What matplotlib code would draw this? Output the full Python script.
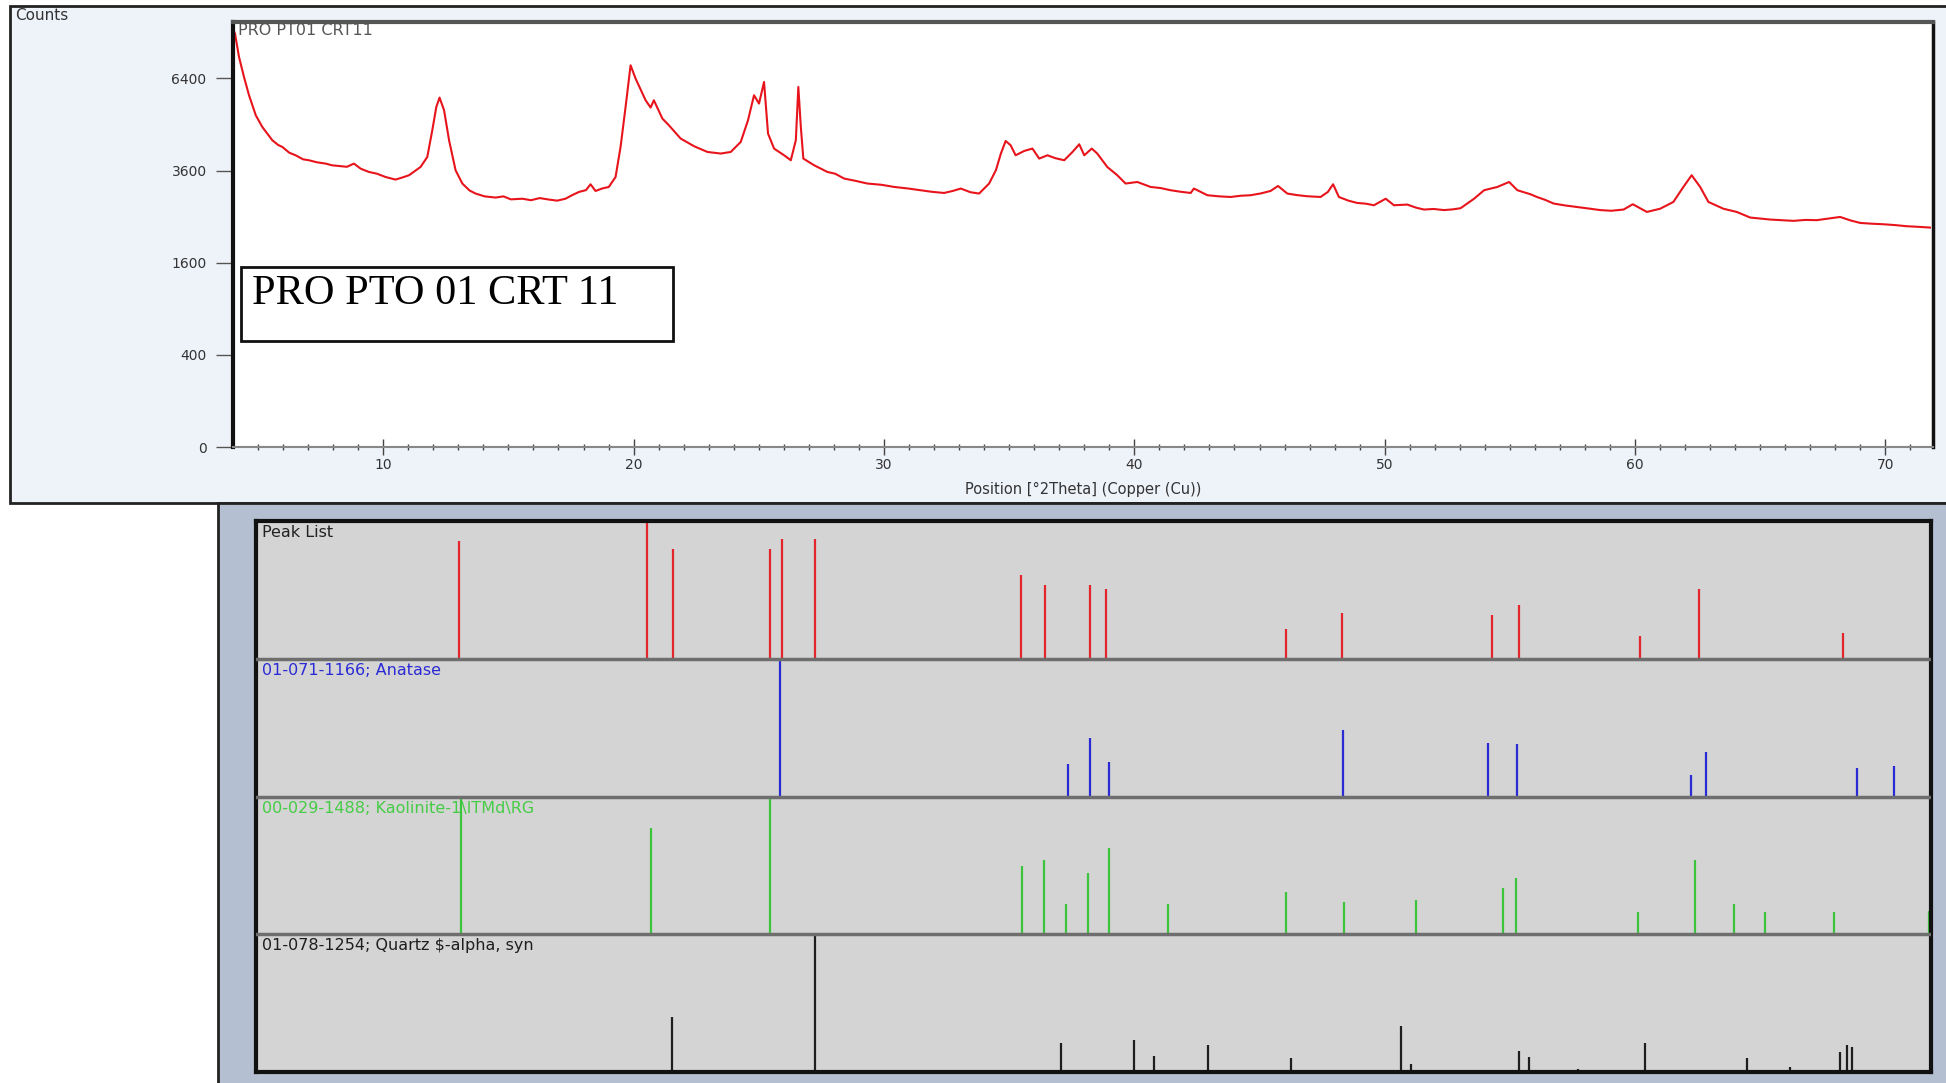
import numpy as np
from matplotlib import pyplot as plt
from matplotlib.patches import Rectangle

two_theta = [4.02, 4.08, 4.24, 4.44, 4.64, 4.91, 5.17, 5.40, 5.57, 5.80, 5.97, 6.25, 6.50, 6.80,
             7.03, 7.35, 7.70, 7.95, 8.23, 8.55, 8.83, 9.10, 9.43, 9.75, 10.09, 10.30, 10.49,
             10.75, 11.03, 11.49, 11.76, 11.96, 12.12, 12.25, 12.43, 12.63, 12.89,
             13.16, 13.45, 13.69, 14.05, 14.49, 14.80, 15.10, 15.56, 15.90, 16.25, 16.62, 16.95,
             17.28, 17.55, 17.82, 18.10, 18.28, 18.48, 18.75, 19.01, 19.28, 19.48,
             19.68, 19.88, 20.08, 20.48, 20.68, 20.81, 21.15, 21.41, 21.88, 22.42, 22.95, 23.48,
             23.88, 24.28, 24.57, 24.81, 25.01, 25.21, 25.37, 25.61, 26.01, 26.28, 26.48, 26.58,
             26.68, 26.78, 27.21, 27.74, 28.05, 28.41, 28.85, 29.34, 29.90, 30.41, 30.95, 31.47,
             31.90, 32.40, 32.75, 33.07, 33.45, 33.80, 34.20,
             34.47, 34.67, 34.86, 35.06, 35.26, 35.60, 35.93, 36.20, 36.53, 36.85, 37.20, 37.53, 37.80,
             38.00, 38.30, 38.52, 38.92, 39.32, 39.65, 40.12, 40.65, 41.05, 41.45, 41.85, 42.25,
             42.38, 42.92, 43.40, 43.85, 44.25, 44.64, 45.05, 45.44, 45.74, 46.11, 46.50, 46.91,
             47.44, 47.73, 47.94, 48.17, 48.55, 48.90, 49.25, 49.57, 50.04, 50.37, 50.90, 51.25,
             51.57, 51.95, 52.37, 52.70, 53.03, 53.57, 53.97, 54.50, 54.97, 55.30, 55.82,
             56.08, 56.40, 56.75, 57.20, 57.68, 58.15, 58.61, 59.05, 59.54, 59.91, 60.47, 61.00,
             61.53, 61.93, 62.26, 62.60, 62.93, 63.53, 64.06, 64.60, 65.00, 65.40, 65.85, 66.33,
             66.80, 67.26, 67.75, 68.19, 68.60, 68.99, 69.45, 69.92, 70.40, 70.85, 71.30, 71.78]
counts = [8200, 8050, 7170, 6450, 5830, 5185, 4827, 4600, 4434, 4300, 4243, 4080, 4010, 3900,
          3875, 3820, 3785, 3740, 3722, 3700, 3785, 3650, 3565, 3520, 3436, 3400, 3370,
          3420, 3480, 3695, 3964, 4728, 5448, 5753, 5344, 4434, 3609,
          3271, 3100, 3027, 2960, 2932, 2960, 2890, 2905, 2870, 2920, 2885, 2860,
          2905, 2990, 3066, 3110, 3253, 3089, 3150, 3187, 3436, 4243,
          5448, 6866, 6396, 5666, 5430, 5666, 5083, 4878, 4483, 4262, 4102, 4058,
          4102, 4385, 5031, 5830, 5558, 6279, 4630, 4197, 4011, 3875, 4434, 6109,
          4826, 3920, 3741, 3565, 3520, 3396, 3340, 3271, 3240, 3187, 3150, 3107,
          3070, 3041, 3090, 3148, 3060, 3027, 3271,
          3609, 4058, 4414, 4290, 4010, 4130, 4197, 3920, 4010, 3930, 3875, 4102, 4319,
          4010, 4197, 4058, 3695, 3480, 3271, 3310, 3187, 3160, 3107, 3070, 3041,
          3148, 2987, 2960, 2946, 2975, 2987, 3030, 3089, 3211, 3027, 2990, 2963,
          2946, 3066, 3253, 2946, 2860, 2807, 2790, 2754, 2905, 2754, 2770, 2700,
          2657, 2670, 2645, 2660, 2687, 2905, 3107, 3187, 3310, 3107, 3011,
          2946, 2880, 2793, 2750, 2715, 2680, 2645, 2630, 2657, 2777, 2604, 2675,
          2830, 3187, 3480, 3187, 2830, 2675, 2604, 2481, 2460, 2438, 2425, 2410,
          2430, 2425, 2460, 2494, 2420, 2366, 2350, 2338, 2320, 2297, 2285, 2269]

y_ticks = [0, 400, 1600, 3600, 6400]
x_ticks = [10, 20, 30, 40, 50, 60, 70]

# reference stick patterns (relative heights within each strip)
peak_pos = [12.21, 19.87, 20.92, 24.85, 25.31, 26.67, 35.03, 35.99, 37.80, 38.45, 45.76,
            48.02, 54.12, 55.18, 60.11, 62.48, 68.32]
peak_h = [0.855, 1.0, 0.80, 0.80, 0.87, 0.87, 0.605, 0.533, 0.538, 0.504, 0.213,
          0.334, 0.315, 0.387, 0.165, 0.504, 0.184]

anatase_pos = [25.26, 36.92, 37.82, 38.57, 48.08, 53.95, 55.11, 62.16, 62.79, 68.88, 70.39]
anatase_h = [1.0, 0.238, 0.422, 0.252, 0.485, 0.39, 0.381, 0.158, 0.325, 0.209, 0.218]

kaolinite_pos = [12.30, 20.02, 24.85, 35.05, 35.95, 36.84, 37.74, 38.57, 40.98, 45.75, 48.10,
                 51.03, 54.55, 55.09, 60.02, 62.35, 63.92, 65.17, 67.96, 71.80]
kaolinite_h = [1.0, 0.77, 1.0, 0.499, 0.542, 0.217, 0.446, 0.627, 0.217, 0.306, 0.234,
               0.248, 0.337, 0.41, 0.164, 0.542, 0.217, 0.164, 0.164, 0.17]

quartz_pos = [20.86, 26.67, 36.65, 39.60, 40.41, 42.61, 45.97, 50.41, 50.84, 55.20, 55.60,
              57.58, 60.31, 64.43, 66.19, 68.20, 68.49, 68.70]
quartz_h = [0.40, 1.0, 0.213, 0.23, 0.116, 0.199, 0.102, 0.334, 0.061, 0.15, 0.109,
            0.019, 0.208, 0.104, 0.039, 0.145, 0.196, 0.182]

strips = [
    ("Peak List", peak_pos, peak_h, "#e3262c", "#222222"),
    ("01-071-1166; Anatase", anatase_pos, anatase_h, "#2b2bd6", "#2b2bd6"),
    ("00-029-1488; Kaolinite-1\\ITMd\\RG", kaolinite_pos, kaolinite_h, "#3cc43c", "#46cc46"),
    ("01-078-1254; Quartz $-alpha, syn", quartz_pos, quartz_h, "#1e1e1e", "#1e1e1e"),
]

W, H = 1946, 1083
plt.rcParams['font.family'] = ['DejaVu Sans']
fig = plt.figure(figsize=(W / 100, H / 100), dpi=100)
fig.patch.set_facecolor("white")


def frac(x0, y0, x1, y1):
    # pixel box (top-left origin) -> figure fraction [l, b, w, h]
    return [x0 / W, 1 - y1 / H, (x1 - x0) / W, (y1 - y0) / H]


def box(x0, y0, x1, y1, fc, ec, lw, z=-1):
    l, b, w, h = frac(x0, y0, x1, y1)
    fig.add_artist(Rectangle((l, b), w, h, transform=fig.transFigure,
                             facecolor=fc, edgecolor=ec, linewidth=lw, zorder=z))


# panel backgrounds
box(10, 6, 1950, 503, "#eef2f9", "#222222", 2.0)
box(218, 503, 1950, 1090, "#b4bfd1", "#222222", 2.0)

# ---- top: diffractogram ----
ax = fig.add_axes(frac(233, 22, 1933, 447))
ax.set_facecolor("white")
ax.plot(two_theta, counts, color="#e8141c", lw=1.5)
ax.set_yscale("function", functions=(lambda v: np.sqrt(np.clip(v, 0, None)), np.square))
ax.set_ylim(0, 8512)
ax.set_xlim(4.0, 71.9)
ax.set_yticks(y_ticks)
ax.set_yticklabels([str(t) for t in y_ticks])
ax.set_xticks(x_ticks)
ax.set_xticks(range(5, 72), minor=True)
ax.tick_params(axis="y", direction="out", length=12, width=1, color="#555555",
               labelsize=10, labelcolor="#333333", pad=7)
ax.tick_params(axis="x", which="major", direction="inout", length=12, width=1,
               color="#444444", labelsize=10, labelcolor="#333333", pad=2)
ax.tick_params(axis="x", which="minor", direction="inout", length=5, width=1, color="#444444")
ax.spines["left"].set_linewidth(3)
ax.spines["left"].set_color("#111111")
ax.spines["right"].set_linewidth(2.5)
ax.spines["right"].set_color("#111111")
ax.spines["top"].set_linewidth(3)
ax.spines["top"].set_color("#555555")
ax.spines["bottom"].set_linewidth(1.5)
ax.spines["bottom"].set_color("#888888")
ax.set_xlabel("Position [°2Theta] (Copper (Cu))", fontsize=10.5, color="#333333", labelpad=7)
ax.text(0.003, 0.998, "PRO PT01 CRT11", transform=ax.transAxes, fontsize=11.5,
        color="#555555", va="top", ha="left")
fig.text(15 / W, 1 - 8 / H, "Counts", fontsize=11, color="#333333", va="top", ha="left")

# sample name box
box(241, 267, 673, 341, "white", "#111111", 2.0, z=5)
fig.text(252 / W, 1 - 294 / H, "PRO PTO 01 CRT 11", family="Liberation Serif",
         fontsize=30.5, color="black", va="center", ha="left", zorder=6)

# ---- bottom: stick patterns ----
bx = fig.add_axes(frac(256, 521, 1931, 1072))
bx.set_facecolor("#d4d4d4")
bx.set_xlim(4.0, 71.9)
bx.set_ylim(0, 4)
bx.set_xticks([])
bx.set_yticks([])
for s in bx.spines.values():
    s.set_linewidth(3)
    s.set_color("#111111")

for i, (name, pos, hts, col, tcol) in enumerate(strips):
    base = 3 - i
    bx.vlines(pos, base, base + np.array(hts), color=col, lw=1.6)
    if i > 0:
        bx.axhline(base + 1, color="#6e6e6e", lw=2.5, zorder=3)
    bx.text(4.25, base + 0.97, name, color=tcol, fontsize=11.5, va="top", ha="left", zorder=4)

plt.savefig("out.png", dpi=100)
